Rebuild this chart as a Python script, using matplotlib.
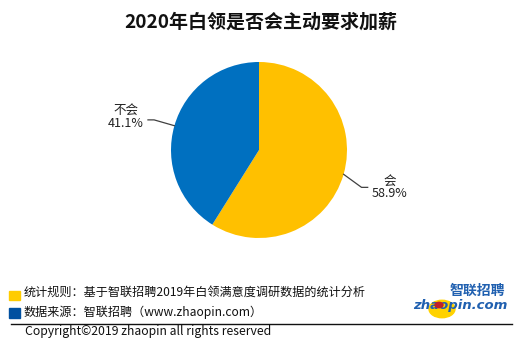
import numpy as np
import matplotlib
matplotlib.use('Agg')
import matplotlib.pyplot as plt
from matplotlib.patches import Rectangle, Circle

plt.rcParams['font.family'] = ['Noto Sans CJK SC', 'DejaVu Sans']

labels = ['会', '不会']
shares = [58.9, 41.1]
colors = ['#FFC000', '#0070C0']

W, H = 522, 350
fig = plt.figure(figsize=(W / 100, H / 100), dpi=100)

# pie axes, positioned in pixel terms
cx, cy, r = 259, 150, 88
ax = fig.add_axes([(cx - r) / W, 1 - (cy + r) / H, 2 * r / W, 2 * r / H])
wedges, _ = ax.pie(shares, colors=colors, startangle=90, counterclock=False,
                   radius=1.0, wedgeprops=dict(linewidth=0))
ax.set_xlim(-1, 1)
ax.set_ylim(-1, 1)
ax.set_aspect('equal')
ax.axis('off')

# leader lines and labels
for w, lab, val in zip(wedges, labels, shares):
    mid = (w.theta1 + w.theta2) / 2
    ang = np.deg2rad(mid)
    x0, y0 = np.cos(ang), np.sin(ang)
    side = np.sign(x0)
    bend = np.deg2rad(mid - 4 if side > 0 else mid)
    x1, y1 = np.cos(bend) * 1.24, np.sin(bend) * 1.24
    x2 = x1 + side * 0.07
    ax.plot([x0, x1, x2], [y0, y1, y1], color='#404040', lw=0.9, clip_on=False)
    dy = 0.0 if side > 0 else 0.03
    ax.text(x2 + side * 0.25, y1 + dy, f'{lab}\n{val}%', ha='center', va='center',
            fontsize=9, color='#222222', linespacing=1.0, clip_on=False)

# title
fig.text(261 / W, 1 - 22 / H, '2020年白领是否会主动要求加薪', ha='center', va='center',
         fontsize=13.7, fontweight='bold', color='#111111')

# footer notes
fig.patches.append(Rectangle((9 / W, 1 - 300 / H), 11 / W, 9 / H,
                             transform=fig.transFigure, color='#FFCC00'))
fig.patches.append(Rectangle((9 / W, 1 - 318 / H), 11 / W, 10 / H,
                             transform=fig.transFigure, color='#0050A0'))
fig.text(24 / W, 1 - 292 / H, '统计规则：基于智联招聘2019年白领满意度调研数据的统计分析',
         ha='left', va='center', fontsize=8.7, color='#111111')
fig.text(24 / W, 1 - 312 / H, '数据来源：智联招聘（www.zhaopin.com）',
         ha='left', va='center', fontsize=8.7, color='#111111')
fig.add_artist(plt.Line2D([11 / W, 512 / W], [1 - 324 / H, 1 - 324 / H],
                          transform=fig.transFigure, color='#111111', lw=1))
fig.text(25 / W, 1 - 332 / H, 'Copyright©2019 zhaopin all rights reserved',
         ha='left', va='center', fontsize=8.8, color='#111111')

# logo
fig.patches.append(Circle((442 / W, 1 - 309 / H), 13 / W, transform=fig.transFigure,
                          color='#FFD200', zorder=1))
fig.text(477 / W, 1 - 291 / H, '智联招聘', ha='center', va='center', fontsize=10,
         fontweight='bold', color='#2060B0', fontstyle='italic', zorder=2)
fig.text(460 / W, 1 - 305 / H, 'zhaopin.com', ha='center', va='center', fontsize=9.5,
         fontweight='bold', color='#2060B0', fontstyle='italic',
         family='DejaVu Sans', zorder=2)
fig.patches.append(Circle((439 / W, 1 - 305 / H), 4 / W, transform=fig.transFigure,
                          color='#C0202A', zorder=3))

fig.savefig('out.png', dpi=100, facecolor='white')
